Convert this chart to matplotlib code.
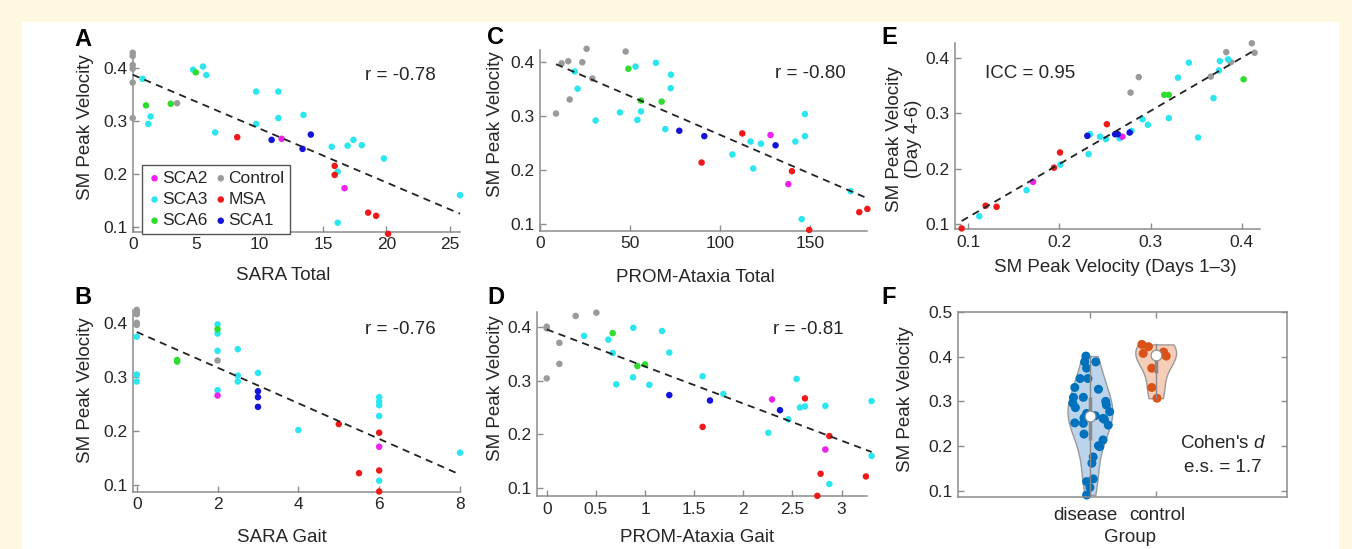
import numpy as np
import matplotlib.pyplot as plt

plt.rcParams['font.family'] = ['Liberation Sans', 'DejaVu Sans']
plt.rcParams['mathtext.fontset'] = 'custom'
plt.rcParams['mathtext.rm'] = 'Liberation Sans'
plt.rcParams['mathtext.it'] = 'Liberation Sans:italic'

# ---- data: (x, SM peak velocity) per group ----
groups = ['SCA2', 'SCA3', 'SCA6', 'Control', 'MSA', 'SCA1']
colors = {'SCA2': '#EE22EE', 'SCA3': '#2BE6EE', 'SCA6': '#2EDD2E',
          'Control': '#9A9A9A', 'MSA': '#EE1A1A', 'SCA1': '#1414D8'}

# A: SARA Total
A_control = [(0, 0.428), (0, 0.422), (0, 0.405), (0, 0.398), (0, 0.372), (0, 0.305), (3.5, 0.333)]
A_sca3 = [(0.78, 0.379), (1.41, 0.308), (1.23, 0.294), (4.76, 0.396), (5.54, 0.402), (5.8, 0.386),
          (6.5, 0.278), (9.73, 0.355), (9.73, 0.294), (11.48, 0.355), (11.48, 0.305), (13.46, 0.311),
          (15.69, 0.251), (16.94, 0.253), (17.4, 0.264), (18.06, 0.254), (19.8, 0.229), (16.16, 0.204),
          (16.16, 0.108), (25.8, 0.16)]
A_sca6 = [(1.05, 0.329), (3.0, 0.332), (4.97, 0.391)]
A_msa = [(8.24, 0.269), (15.92, 0.215), (15.92, 0.198), (18.56, 0.127), (19.19, 0.121), (20.13, 0.087)]
A_sca2 = [(11.74, 0.266), (16.7, 0.173)]
A_sca1 = [(10.95, 0.264), (13.39, 0.247), (14.04, 0.274)]

# B: SARA Gait
B_control = [(0, 0.425), (0, 0.42), (0, 0.417), (0, 0.401), (0, 0.397), (2, 0.331)]
B_sca3 = [(0, 0.375), (0, 0.305), (0, 0.292), (2, 0.398), (2, 0.381), (2, 0.349), (2, 0.276),
          (2.5, 0.352), (2.5, 0.303), (2.5, 0.292), (3, 0.308), (4, 0.202), (6, 0.263), (6, 0.255),
          (6, 0.248), (6, 0.228), (6, 0.108), (8, 0.16)]
B_sca6 = [(1, 0.329), (1, 0.332), (2, 0.389)]
B_msa = [(5, 0.213), (5.5, 0.122), (6, 0.197), (6, 0.127), (6, 0.088)]
B_sca2 = [(2, 0.266), (6, 0.171)]
B_sca1 = [(3, 0.274), (3, 0.263), (3, 0.245)]

# C: PROM-Ataxia Total
C_control = [(8.9, 0.305), (12, 0.398), (15.7, 0.402), (16.5, 0.331), (23.5, 0.4), (25.9, 0.425),
             (29.1, 0.37), (47.6, 0.42)]
C_sca3 = [(19.3, 0.383), (20.9, 0.351), (30.9, 0.292), (44.4, 0.307), (53.1, 0.392), (54.1, 0.293),
          (56.1, 0.309), (64.4, 0.399), (72.8, 0.377), (72.6, 0.352), (69.6, 0.276), (106.9, 0.229),
          (117, 0.253), (122.8, 0.249), (118.5, 0.203), (141.9, 0.253), (147.2, 0.304), (147.2, 0.263),
          (145.4, 0.109), (172.6, 0.161)]
C_sca6 = [(49.1, 0.388), (56.1, 0.329), (67.6, 0.327)]
C_msa = [(89.8, 0.214), (112.4, 0.268), (140, 0.198), (149.6, 0.089), (177.4, 0.122), (181.9, 0.128)]
C_sca2 = [(128.1, 0.265), (138, 0.174)]
C_sca1 = [(77.4, 0.273), (91.3, 0.263), (130.9, 0.246)]

# D: PROM-Ataxia Gait
D_control = [(0, 0.4), (0, 0.397), (0, 0.304), (0.129, 0.37), (0.129, 0.331), (0.295, 0.42), (0.505, 0.426)]
D_sca3 = [(0.38, 0.383), (0.627, 0.376), (0.671, 0.351), (0.708, 0.293), (0.881, 0.398), (0.878, 0.306),
          (1.044, 0.292), (1.173, 0.392), (1.247, 0.352), (1.586, 0.308), (1.797, 0.275), (2.254, 0.203),
          (2.458, 0.228), (2.542, 0.303), (2.576, 0.25), (2.627, 0.252), (2.834, 0.253), (2.875, 0.108),
          (3.305, 0.262), (3.305, 0.16)]
D_sca6 = [(0.671, 0.388), (0.922, 0.327), (1.0, 0.33)]
D_msa = [(1.586, 0.214), (2.627, 0.267), (2.875, 0.197), (2.786, 0.127), (2.753, 0.086), (3.247, 0.122)]
D_sca2 = [(2.292, 0.265), (2.834, 0.172)]
D_sca1 = [(1.247, 0.273), (1.661, 0.263), (2.373, 0.245)]

# E: days 1-3 vs days 4-6
E_control = [(0.278, 0.337), (0.287, 0.365), (0.366, 0.366), (0.383, 0.41), (0.388, 0.392),
             (0.411, 0.426), (0.414, 0.409)]
E_sca3 = [(0.112, 0.114), (0.164, 0.161), (0.201, 0.207), (0.232, 0.226), (0.2335, 0.262),
          (0.2445, 0.2575), (0.251, 0.253), (0.266, 0.2545), (0.279, 0.268), (0.291, 0.289),
          (0.297, 0.279), (0.32, 0.291), (0.33, 0.364), (0.342, 0.391), (0.352, 0.256),
          (0.369, 0.327), (0.375, 0.377), (0.376, 0.394), (0.385, 0.397)]
E_sca6 = [(0.315, 0.333), (0.32, 0.333), (0.402, 0.361)]
E_msa = [(0.0927, 0.092), (0.119, 0.133), (0.131, 0.131), (0.194, 0.2016), (0.2006, 0.229), (0.252, 0.28)]
E_sca2 = [(0.171, 0.176), (0.269, 0.2575)]
E_sca1 = [(0.2306, 0.259), (0.261, 0.262), (0.264, 0.262), (0.277, 0.265)]

# F: violin groups (jitter offset, value)
F_disease = [(-0.06, 0.401), (-0.08, 0.388), (0.09, 0.388), (-0.05, 0.374), (-0.15, 0.351),
             (-0.03, 0.351), (-0.23, 0.331), (0.13, 0.327), (-0.25, 0.309), (-0.10, 0.309),
             (-0.26, 0.296), (0.25, 0.292), (-0.22, 0.286), (0.30, 0.277), (-0.05, 0.273),
             (0.08, 0.268), (-0.23, 0.252), (-0.10, 0.251), (0.20, 0.262), (0.28, 0.247),
             (-0.09, 0.263), (-0.09, 0.227), (0.13, 0.201), (0.20, 0.214), (0.15, 0.199),
             (0.05, 0.176), (0.03, 0.162), (-0.05, 0.121), (0.05, 0.127), (0.0, 0.108),
             (-0.05, 0.091), (0.22, 0.26), (0.24, 0.30)]
F_control = [(-0.21, 0.427), (-0.11, 0.422), (-0.19, 0.407), (0.16, 0.401), (0.12, 0.41),
             (-0.06, 0.374), (-0.06, 0.331), (0.02, 0.307)]
F_labels = ['disease', 'control']

r_values = ['r = -0.78', 'r = -0.76', 'r = -0.80', 'r = -0.81']
icc_text = 'ICC = 0.95'
cohen_d = 1.7

# ---- layout helpers (pixel boxes) ----
W, H = 1352, 549
fig = plt.figure(figsize=(W / 100, H / 100), dpi=100)
fig.patch.set_facecolor('#FEF8E1')
fig.add_artist(plt.Rectangle((22 / W, 0), (1339 - 22) / W, 1 - 22 / H, transform=fig.transFigure,
                             facecolor='white', edgecolor='none', zorder=-5))

SPINE = '#8C8C8C'
TXT = '#262626'
FS = 13.5


def px_axes(l, t, r, b):
    return fig.add_axes([l / W, 1 - b / H, (r - l) / W, (b - t) / H])


def ftext(x, y, s, **kw):
    kw.setdefault('fontsize', FS)
    kw.setdefault('color', TXT)
    fig.text(x / W, 1 - y / H, s, ha='center', va='center', **kw)


def style(ax, box=False):
    for side in ['top', 'right']:
        ax.spines[side].set_visible(box)
    for sp in ax.spines.values():
        sp.set_color(SPINE)
        sp.set_linewidth(1.1)
    ax.tick_params(direction='in', length=4, width=1, color=SPINE, labelcolor=TXT,
                   labelsize=12.5, top=box, right=box, pad=4)


def scatter_panel(ax, data, fit=True):
    order = ['Control', 'SCA3', 'SCA6', 'SCA2', 'SCA1', 'MSA']
    for g in order:
        pts = np.array(data[g])
        ax.scatter(pts[:, 0], pts[:, 1], s=22, color=colors[g], edgecolors='none',
                   clip_on=False, zorder=3, label=g)
    if fit:
        allp = np.vstack([np.array(data[g]) for g in groups])
        k, b0 = np.polyfit(allp[:, 0], allp[:, 1], 1)
        xs = np.array([allp[:, 0].min(), allp[:, 0].max()])
        ax.plot(xs, k * xs + b0, ls=(0, (4, 3)), color='#222222', lw=1.3, zorder=4, clip_on=False)


panels = {
    'A': dict(SCA2=A_sca2, SCA3=A_sca3, SCA6=A_sca6, Control=A_control, MSA=A_msa, SCA1=A_sca1),
    'B': dict(SCA2=B_sca2, SCA3=B_sca3, SCA6=B_sca6, Control=B_control, MSA=B_msa, SCA1=B_sca1),
    'C': dict(SCA2=C_sca2, SCA3=C_sca3, SCA6=C_sca6, Control=C_control, MSA=C_msa, SCA1=C_sca1),
    'D': dict(SCA2=D_sca2, SCA3=D_sca3, SCA6=D_sca6, Control=D_control, MSA=D_msa, SCA1=D_sca1),
    'E': dict(SCA2=E_sca2, SCA3=E_sca3, SCA6=E_sca6, Control=E_control, MSA=E_msa, SCA1=E_sca1),
}
yt = [0.1, 0.2, 0.3, 0.4]
ytl = ['0.1', '0.2', '0.3', '0.4']

# A
axA = px_axes(132.7, 51.7, 460, 231.7)
scatter_panel(axA, panels['A'])
axA.set_xlim(0, 25.8)
axA.set_ylim(0.0911, 0.430)
axA.set_xticks([0, 5, 10, 15, 20, 25])
axA.set_yticks(yt, ytl)
style(axA)
h, l = axA.get_legend_handles_labels()
hd = dict(zip(l, h))
leg = axA.legend([hd[g] for g in groups], groups, ncol=2, loc='lower left',
                 bbox_to_anchor=(0.027, -0.01), borderaxespad=0, fontsize=12.5,
                 handletextpad=0.0, columnspacing=0.3, labelspacing=0.35, handlelength=0.9,
                 borderpad=0.3, fancybox=False, framealpha=1, edgecolor='#555555',
                 scatterpoints=1, markerscale=1.0)
leg.get_frame().set_linewidth(1.0)
for t in leg.get_texts():
    t.set_color(TXT)

# B
axB = px_axes(132.7, 310, 460, 491.7)
scatter_panel(axB, panels['B'])
axB.set_xlim(-0.1, 8.0)
axB.set_ylim(0.0876, 0.4247)
axB.set_xticks([0, 2, 4, 6, 8])
axB.set_yticks(yt, ytl)
style(axB)

# C
axC = px_axes(540, 50, 867, 230.7)
scatter_panel(axC, panels['C'])
axC.set_xlim(0, 181.7)
axC.set_ylim(0.0876, 0.4228)
axC.set_xticks([0, 50, 100, 150])
axC.set_yticks(yt, ytl)
style(axC)

# D
axD = px_axes(537.3, 312.3, 866.7, 496)
scatter_panel(axD, panels['D'])
axD.set_xlim(-0.0956, 3.255)
axD.set_ylim(0.0857, 0.4267)
axD.set_xticks([0, 0.5, 1, 1.5, 2, 2.5, 3], ['0', '0.5', '1', '1.5', '2', '2.5', '3'])
axD.set_yticks(yt, ytl)
style(axD)

# E
axE = px_axes(955, 43.3, 1260, 229.3)
scatter_panel(axE, panels['E'])
axE.set_xlim(0.0854, 0.420)
axE.set_ylim(0.0904, 0.426)
axE.set_xticks(yt, ytl)
axE.set_yticks(yt, ytl)
style(axE)

# F: violins
axF = px_axes(958.3, 311.7, 1287.3, 496.7)
dis = np.array(F_disease)
con = np.array(F_control)
fills = ['#BBD4EC', '#F6CDB8']
pcols = ['#0072BD', '#D95319']
for pos, arr, fc, pc, wd in [(1, dis, fills[0], pcols[0], 0.68), (2, con, fills[1], pcols[1], 0.62)]:
    n = len(arr)
    vp = axF.violinplot([arr[:, 1]], positions=[pos], widths=wd, showextrema=False,
                        bw_method=1.06 * n ** -0.2)
    for body in vp['bodies']:
        body.set_facecolor(fc)
        body.set_edgecolor('#9A9A9A')
        body.set_linewidth(1.0)
        body.set_alpha(1)
        body.set_zorder(1)
    axF.scatter(pos + arr[:, 0], arr[:, 1], s=42, color=pc, edgecolors='none', zorder=2, clip_on=False)
    q1, med, q3 = np.percentile(arr[:, 1], [25, 50, 75])
    axF.plot([pos, pos], [arr[:, 1].min(), arr[:, 1].max()], color='#8A8A8A', lw=1, zorder=3)
    axF.plot([pos, pos], [q1, q3], color='#8A8A8A', lw=2.5, zorder=3, solid_capstyle='butt')
    axF.scatter([pos], [med], s=60, color='white', edgecolors='#8A8A8A', linewidths=0.8, zorder=4)
axF.set_xlim(-1, 4)
axF.set_ylim(0.0873, 0.5)
axF.set_xticks([1, 2], F_labels)
axF.set_yticks([0.1, 0.2, 0.3, 0.4, 0.5], ['0.1', '0.2', '0.3', '0.4', '0.5'])
style(axF, box=True)
axF.set_xticklabels([])
ftext(1085, 515, F_labels[0])
ftext(1157, 515, F_labels[1])

# axis labels
ftext(85, 127, 'SM Peak Velocity', rotation=90)
ftext(85, 390, 'SM Peak Velocity', rotation=90)
ftext(495, 124, 'SM Peak Velocity', rotation=90)
ftext(495, 388, 'SM Peak Velocity', rotation=90)
ftext(904, 139, 'SM Peak Velocity\n(Day 4-6)', rotation=90, multialignment='center')
ftext(905, 399, 'SM Peak Velocity', rotation=90)
ftext(283, 275, 'SARA Total')
ftext(282, 538, 'SARA Gait')
ftext(695, 277, 'PROM-Ataxia Total')
ftext(697, 537, 'PROM-Ataxia Gait')
ftext(1115, 268, 'SM Peak Velocity (Days 1\u20133)')
ftext(1130, 537, 'Group')

# annotations
ftext(400, 75, r_values[0])
ftext(400, 330, r_values[1])
ftext(810, 73, r_values[2])
ftext(808, 330, r_values[3])
ftext(1030, 73, icc_text)
ftext(1223, 443, "Cohen's $\\it{d}$")
ftext(1223, 467, 'e.s. = %.1f' % cohen_d)

# panel letters
for letter, (x, y) in zip('ABCDEF', [(83, 40), (83, 297), (496, 38), (496, 297), (889, 38), (889, 297)]):
    ftext(x, y, letter, fontsize=17, fontweight='bold', color='black')

fig.savefig('out.png', dpi=100, facecolor=fig.get_facecolor())
